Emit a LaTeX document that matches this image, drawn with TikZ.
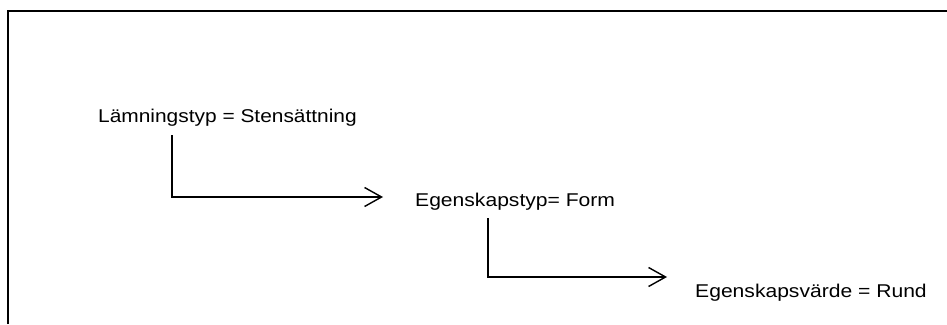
\documentclass[tikz,border=0pt]{standalone}
\usepackage{fontspec}
\setmainfont{Liberation Sans}
\usetikzlibrary{arrows.meta}
\begin{document}
\begin{tikzpicture}[x=1pt,y=-1pt,
  lbl/.style={inner sep=0pt,anchor=base west,font=\fontsize{18.5}{22}\selectfont},
  conn/.style={line width=1.4pt,-{Straight Barb[length=17pt,width=19pt,line width=1.4pt]}},
  frame/.style={line width=2pt}]
\useasboundingbox (0,0) rectangle (947,324);
\draw[frame] (8,324) -- (8,11) -- (948,11);
\node[lbl] (t1) at (98,122) {\scalebox{1.13}[1]{Lämningstyp = Stensättning}};
\node[lbl] (t2) at (415,206) {\scalebox{1.14}[1]{Egenskapstyp= Form}};
\node[lbl] (t3) at (695,297) {\scalebox{1.14}[1]{Egenskapsvärde = Rund}};
\coordinate (s1) at (172,135);
\coordinate (e1) at (383,197);
\coordinate (s2) at (488,218);
\coordinate (e2) at (667,277);
\draw[conn] (s1) |- (e1);
\draw[conn] (s2) |- (e2);
\end{tikzpicture}
\end{document}
